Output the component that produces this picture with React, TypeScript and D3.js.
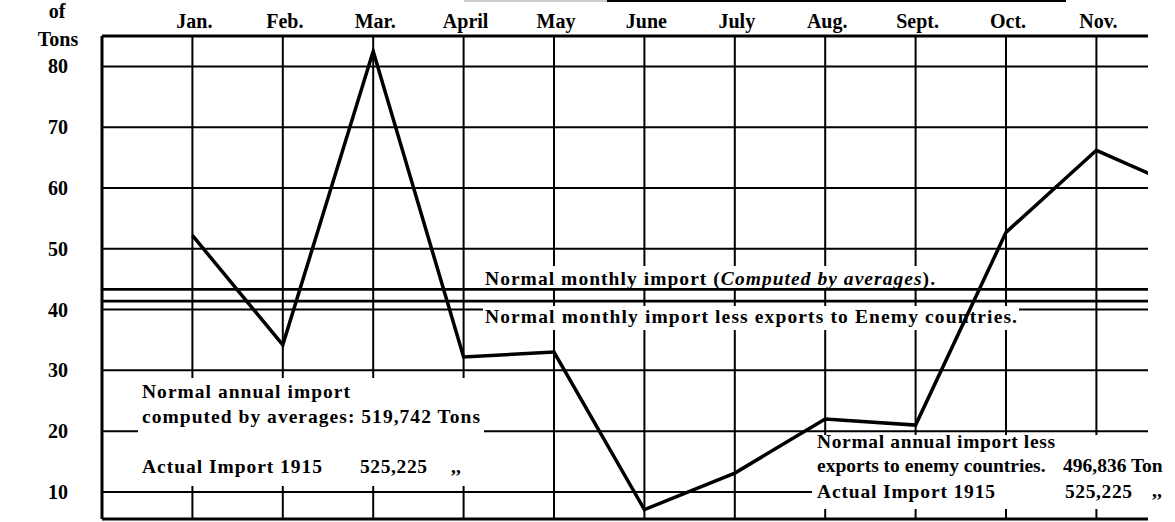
import * as d3 from 'd3';

// months of 1915 (Dec. runs off the right edge of the sheet)
const months = ['Jan.', 'Feb.', 'Mar.', 'April', 'May', 'June', 'July', 'Aug.', 'Sept.', 'Oct.', 'Nov.', 'Dec.'];
// actual monthly import, thousands of tons
const monthlyImport = [52.2, 34.2, 82.5, 32.2, 33.0, 7.1, 13.1, 22.0, 21.0, 52.7, 66.2, 59.6];
const yTicks = [80, 70, 60, 50, 40, 30, 20, 10];

const normalAnnualImport = 519742;
const normalAnnualLessEnemy = 496836;
const actualImport1915 = 525225;

const W = 1175;
const H = 522;
const left = 102;
const right = 1148;
const top = 36;
const bottom = 519;
const monthStep = 90.4;

const font = '"Liberation Serif", serif';

export default function App() {
  const x = d3.scaleLinear().domain([0, 12]).range([left, left + 12 * monthStep]);
  const y = d3.scaleLinear().domain([5.55, 85.0]).range([bottom, top]);
  const fmt = d3.format(',');

  // normal monthly levels (thousands of tons)
  const normalMonthly = normalAnnualImport / 12 / 1000;
  const lessEnemyMonthly = normalAnnualLessEnemy / 12 / 1000;

  const line = d3.line<number>()
    .x((_, i) => x(i + 1))
    .y(d => y(d));

  // white boxes behind the printed notes, hiding the grid
  const masks = [
    { x: 483, y: 266, w: 457, h: 23 },
    { x: 483, y: 306, w: 536, h: 24 },
    { x: 138, y: 378, w: 346, h: 108 },
    { x: 812, y: 435, w: 360, h: 74 },
  ];

  const visibleMonths = months.map((m, i) => ({ m, i })).filter(d => x(d.i + 1) < right);

  return (
    <svg width={W} height={H} style={{ position: 'absolute', left: 0, top: 0, background: '#fff' }}
      fontFamily={font} fontWeight="bold">
      <defs>
        <clipPath id="plot"><rect x={0} y={0} width={right} height={H} /></clipPath>
        <clipPath id="page"><rect x={0} y={0} width={1163} height={H} /></clipPath>
      </defs>

      {/* remains of a title rule at the top */}
      <line x1={464} x2={607} y1={1} y2={1} stroke="#bbb" strokeWidth={1.5} />
      <line x1={607} x2={1066} y1={1} y2={1} stroke="#000" strokeWidth={2} />

      <g clipPath="url(#plot)">
        {/* grid */}
        {yTicks.map(t => (
          <line key={t} x1={left} x2={right} y1={y(t)} y2={y(t)} stroke="#000" strokeWidth={2} />
        ))}
        {months.map((m, i) => (
          <line key={m} x1={x(i + 1)} x2={x(i + 1)} y1={top} y2={bottom} stroke="#000" strokeWidth={2} />
        ))}

        {masks.map((r, i) => (
          <rect key={i} x={r.x} y={r.y} width={r.w} height={r.h} fill="#fff" />
        ))}

        {/* normal monthly levels */}
        <line x1={left} x2={right} y1={y(normalMonthly)} y2={y(normalMonthly)} stroke="#000" strokeWidth={2.8} />
        <line x1={left} x2={right} y1={y(lessEnemyMonthly)} y2={y(lessEnemyMonthly)} stroke="#000" strokeWidth={2.8} />

        {/* frame */}
        <line x1={left} x2={right} y1={top} y2={top} stroke="#000" strokeWidth={3} />
        <line x1={left} x2={right} y1={bottom} y2={bottom} stroke="#000" strokeWidth={3} />
        <line x1={left} x2={left} y1={top} y2={bottom} stroke="#000" strokeWidth={3} />

        {/* actual import 1915 */}
        <path d={line(monthlyImport) ?? ''} fill="none" stroke="#000" strokeWidth={3.5} strokeLinejoin="miter" />
      </g>

      {/* axis labels */}
      <text x={57} y={18} fontSize={20} textAnchor="middle">of</text>
      <text x={58} y={46} fontSize={20} textAnchor="middle">Tons</text>
      {yTicks.map(t => (
        <text key={t} x={58} y={y(t) + 7} fontSize={20} textAnchor="middle">{t}</text>
      ))}
      {visibleMonths.map(({ m, i }) => (
        <text key={m} x={x(i + 1) + 2} y={28} fontSize={20} textAnchor="middle">{m}</text>
      ))}

      {/* notes */}
      <g clipPath="url(#page)" fontSize={19.5}>
        <text x={485} y={285} textLength={450} lengthAdjust="spacing">
          Normal monthly import (<tspan fontStyle="italic">Computed by averages</tspan>).
        </text>
        <text x={485} y={323} textLength={532} lengthAdjust="spacing">
          Normal monthly import less exports to Enemy countries.
        </text>

        <text x={142} y={398} textLength={208} lengthAdjust="spacing">Normal annual import</text>
        <text x={142} y={423} textLength={338} lengthAdjust="spacing">
          computed by averages: {fmt(normalAnnualImport)} Tons
        </text>
        <text x={142} y={473} textLength={180} lengthAdjust="spacing">Actual Import 1915</text>
        <text x={360} y={473} textLength={67} lengthAdjust="spacing">{fmt(actualImport1915)}</text>
        <text x={451} y={473}>,,</text>

        <text x={817} y={448} textLength={238} lengthAdjust="spacing">Normal annual import less</text>
        <text x={817} y={472}>exports to enemy countries.</text>
        <text x={1063} y={472}>{fmt(normalAnnualLessEnemy)} Tons</text>
        <text x={817} y={498} textLength={178} lengthAdjust="spacing">Actual Import 1915</text>
        <text x={1065} y={498} textLength={67} lengthAdjust="spacing">{fmt(actualImport1915)}</text>
        <text x={1152} y={497}>,,</text>
      </g>
    </svg>
  );
}
